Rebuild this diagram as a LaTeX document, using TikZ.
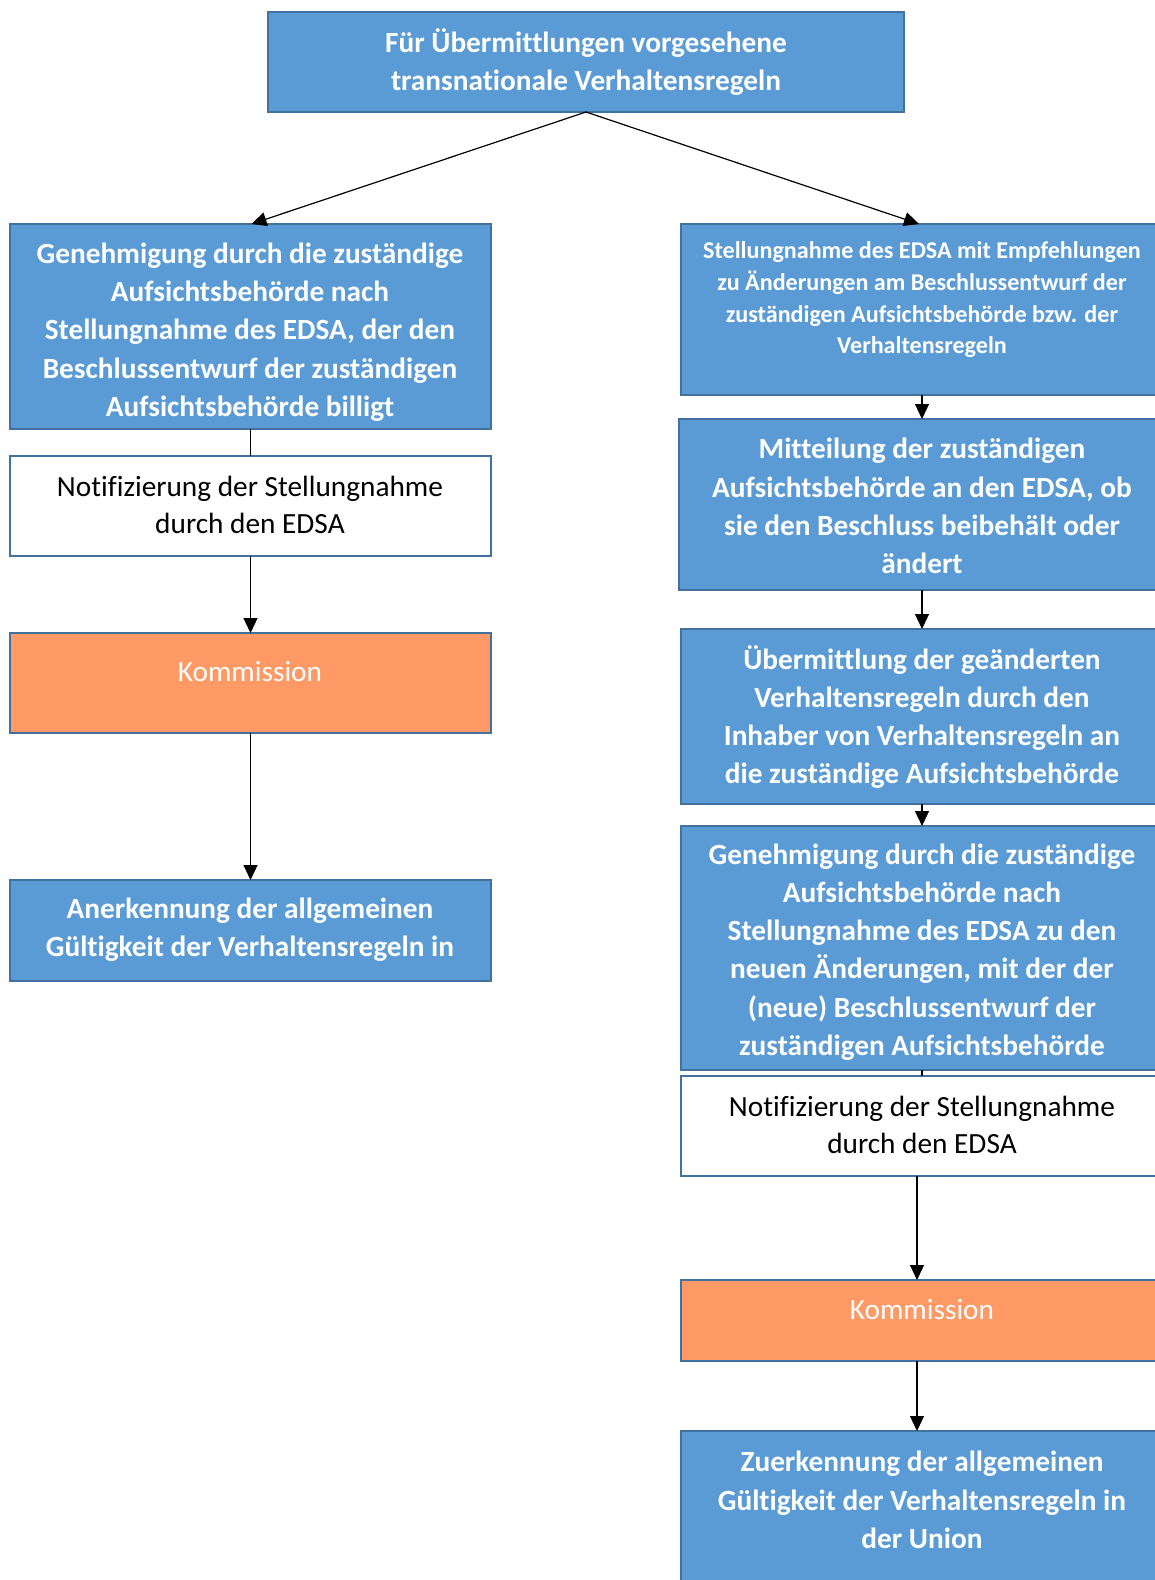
\documentclass[tikz,border=0pt]{standalone}
\usepackage{fontspec}
\setmainfont{Carlito}[Ligatures=NoCommon]
\usetikzlibrary{arrows.meta}
\definecolor{boxblue}{HTML}{5B9BD5}
\definecolor{edgeblue}{HTML}{41719C}
\definecolor{boxorange}{HTML}{FF9A66}
\tikzset{
  box/.style={draw=edgeblue, line width=2pt, inner sep=0pt, outer sep=0pt, anchor=north west},
  bluebox/.style={box, fill=boxblue},
  whitebox/.style={box, fill=white},
  orangebox/.style={box, fill=boxorange},
  btext/.style={text=white, font=\bfseries\fontsize{29.3}{38.3}\selectfont, align=center, inner sep=0pt},
  stext/.style={text=white, font=\bfseries\fontsize{24.1}{31.7}\selectfont, align=center, inner sep=0pt},
  ntext/.style={text=black, font=\fontsize{29.3}{37.5}\selectfont, align=center, inner sep=0pt},
  ktext/.style={text=white, font=\fontsize{29.3}{37.5}\selectfont, align=center, inner sep=0pt},
  conn/.style={line width=1.2pt, -{Triangle[width=14pt,length=15pt]}},
  plain/.style={line width=1.2pt}
}
\begin{document}
\begin{tikzpicture}[x=1pt,y=-1pt]
\useasboundingbox (0,0) rectangle (1155,1580);
\clip (0,0) rectangle (1155,1580);
% top
\node[bluebox, minimum width=636pt, minimum height=100pt] (top) at (268,12) {};
\node[btext] (topt) at (586,62) {Für Übermittlungen vorgesehene\\transnationale Verhaltensregeln};
% left column
\node[bluebox, minimum width=481pt, minimum height=205pt] (l1) at (10,224) {};
\node[btext] (l1t) at (250,332) {Genehmigung durch die zuständige\\Aufsichtsbehörde nach\\Stellungnahme des EDSA, der den\\Beschlussentwurf der zuständigen\\Aufsichtsbehörde billigt};
\node[whitebox, minimum width=481pt, minimum height=100pt] (l2) at (10,456) {};
\node[ntext] (l2t) at (250,505) {Notifizierung der Stellungnahme\\durch den EDSA};
\node[orangebox, minimum width=481pt, minimum height=100pt] (l3) at (10,633) {};
\node[ktext] (l3t) at (250,672) {Kommission};
\node[bluebox, minimum width=481pt, minimum height=101pt] (l4) at (10,880) {};
\node[btext] (l4t) at (250,930) {Anerkennung der allgemeinen\\Gültigkeit der Verhaltensregeln in};
% right column
\node[bluebox, minimum width=482pt, minimum height=171pt] (r1) at (681,224) {};
\node[stext] (r1t) at (922,300) {Stellungnahme des EDSA mit Empfehlungen\\zu Änderungen am Beschlussentwurf der\\zuständigen Aufsichtsbehörde bzw. der\\Verhaltensregeln};
\node[bluebox, minimum width=484pt, minimum height=171pt] (r2) at (679,419) {};
\node[btext] (r2t) at (922,506) {Mitteilung der zuständigen\\Aufsichtsbehörde an den EDSA, ob\\sie den Beschluss beibehält oder\\ändert};
\node[bluebox, minimum width=482pt, minimum height=175pt] (r3) at (681,629) {};
\node[btext] (r3t) at (922,717) {Übermittlung der geänderten\\Verhaltensregeln durch den\\Inhaber von Verhaltensregeln an\\die zuständige Aufsichtsbehörde};
\node[bluebox, minimum width=482pt, minimum height=244pt] (r4) at (681,826) {};
\node[btext] (r4t) at (922,952) {Genehmigung durch die zuständige\\Aufsichtsbehörde nach\\Stellungnahme des EDSA zu den\\neuen Änderungen, mit der der\\(neue) Beschlussentwurf der\\zuständigen Aufsichtsbehörde};
\node[whitebox, minimum width=482pt, minimum height=100pt] (r5) at (681,1076) {};
\node[ntext] (r5t) at (922,1125) {Notifizierung der Stellungnahme\\durch den EDSA};
\node[orangebox, minimum width=482pt, minimum height=81pt] (r6) at (681,1280) {};
\node[ktext] (r6t) at (922,1310) {Kommission};
\node[bluebox, minimum width=482pt, minimum height=170pt] (r7) at (681,1431) {};
\node[btext] (r7t) at (922,1500) {Zuerkennung der allgemeinen\\Gültigkeit der Verhaltensregeln in\\der Union};
% connectors
\draw[conn] (top.south) -- ([xshift=1pt]l1.north);
\draw[conn] (top.south) -- ([xshift=-3pt]r1.north);
\draw[plain] (l1.south) -- (l2.north);
\draw[conn] (l2.south) -- (l3.north);
\draw[conn] (l3.south) -- (l4.north);
\draw[conn] (r1.south) -- (r1.south |- r2.north);
\draw[conn] (r3.north |- r2.south) -- (r3.north);
\draw[conn] (r3.south) -- (r4.north);
\draw[plain] (r4.south) -- (r5.north);
\draw[conn] ([xshift=-5pt]r5.south) -- ([xshift=-5pt]r6.north);
\draw[conn] ([xshift=-5pt]r6.south) -- ([xshift=-5pt]r7.north);
\end{tikzpicture}
\end{document}
